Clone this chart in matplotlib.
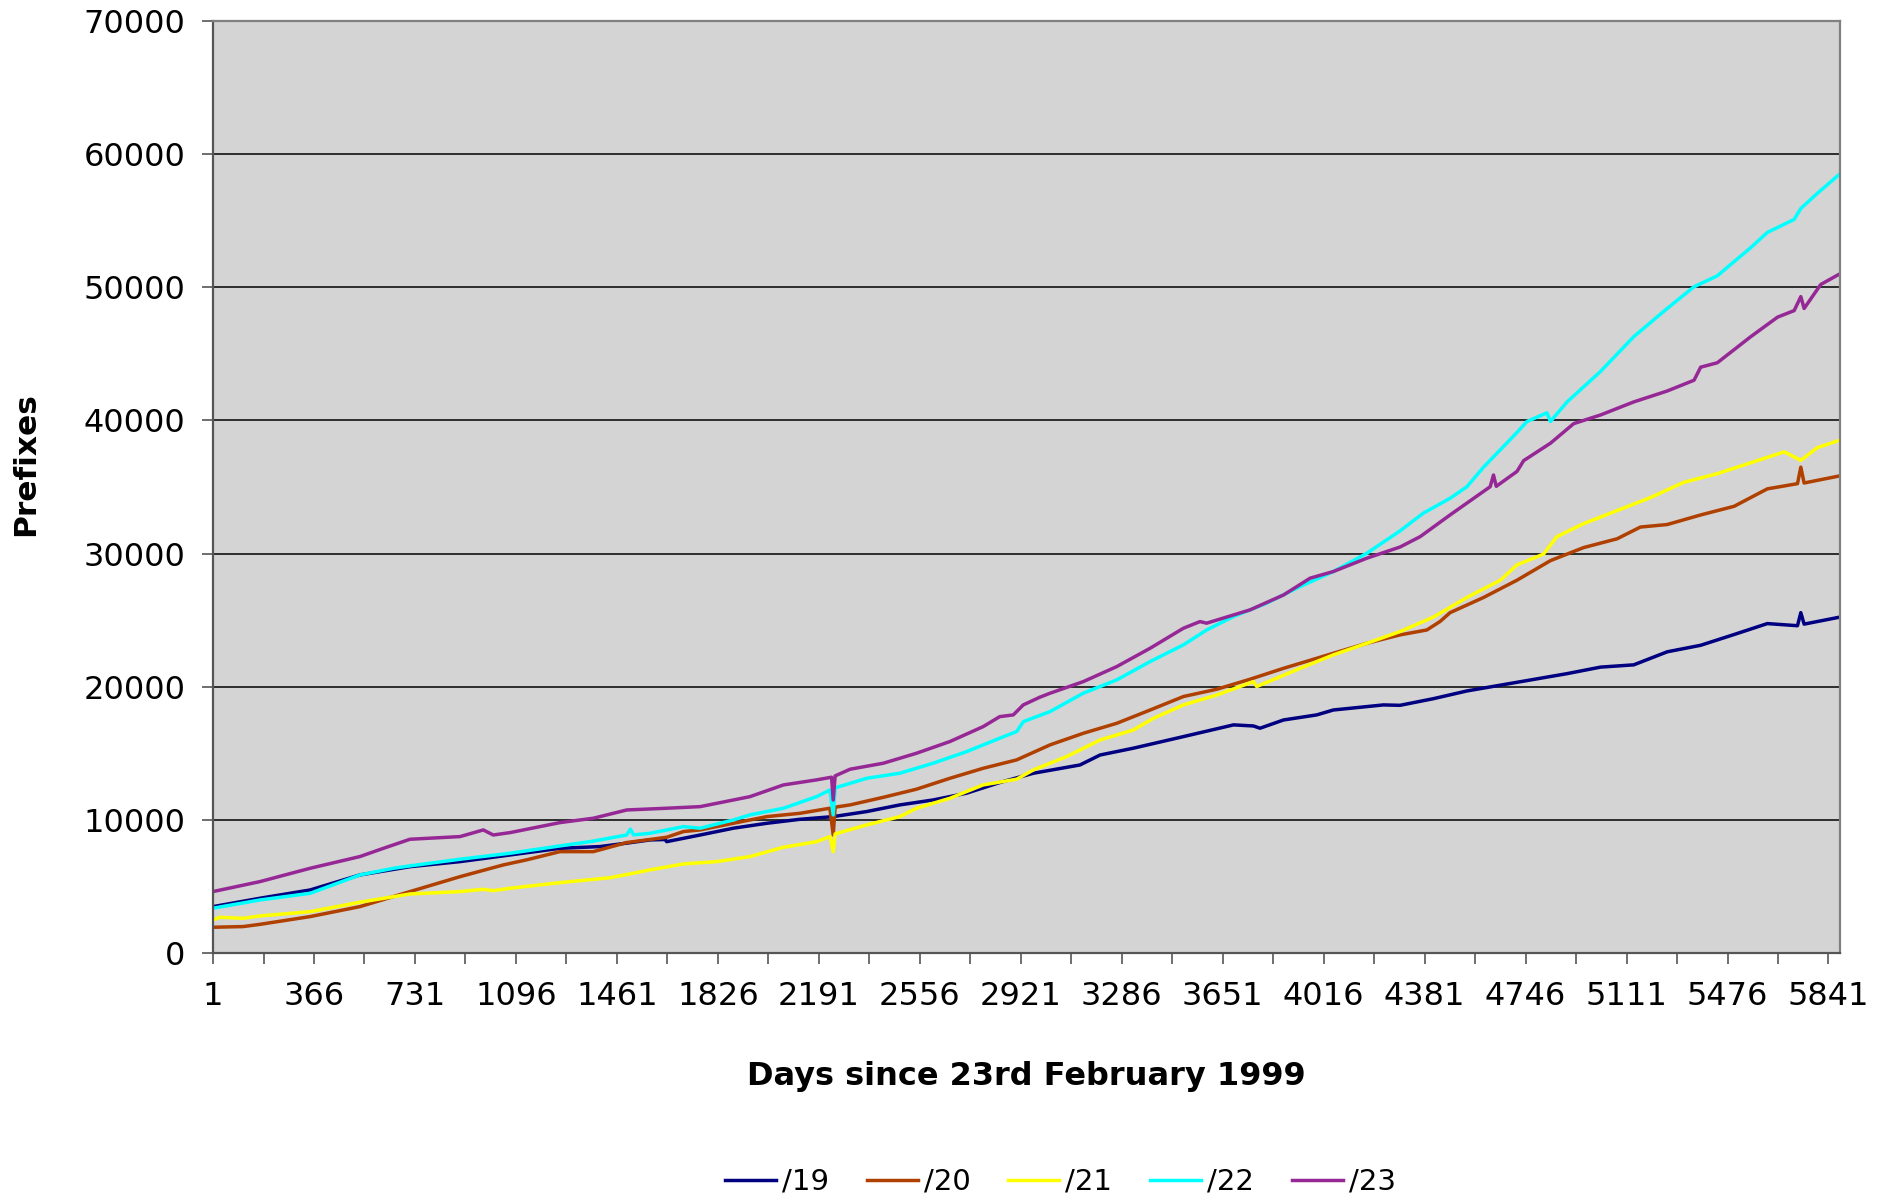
import matplotlib
matplotlib.use("Agg")
import matplotlib.pyplot as plt
from matplotlib.ticker import FixedLocator

# Data: days since 23 Feb 1999 -> number of prefixes
days_19 = [1, 171, 352, 532, 713, 894, 1075, 1256, 1400, 1497, 1581, 1635, 1641, 1762, 1882,
           2003, 2123, 2243, 2364, 2484, 2604, 2725, 2845, 2967, 3135, 3208, 3328, 3509, 3690,
           3762, 3786, 3871, 3991, 4051, 4232, 4292, 4413, 4534, 4715, 4896, 5017, 5137, 5258,
           5379, 5500, 5620, 5729, 5741, 5753, 5883]
vals_19 = [3480, 4110, 4730, 5860, 6480, 6860, 7360, 7860, 7990, 8250, 8490, 8520, 8360, 8860,
           9370, 9740, 10040, 10240, 10620, 11120, 11490, 12000, 12800, 13500, 14120, 14870,
           15380, 16250, 17130, 17050, 16880, 17500, 17880, 18250, 18630, 18600, 19100, 19680,
           20330, 20980, 21470, 21640, 22620, 23110, 23920, 24740, 24580, 25560, 24700, 25230]

days_20 = [1, 110, 171, 352, 532, 713, 894, 1050, 1134, 1255, 1376, 1496, 1641, 1702, 1762,
           1882, 2003, 2123, 2231, 2243, 2250, 2304, 2424, 2544, 2665, 2785, 2906, 3027, 3147,
           3268, 3389, 3509, 3630, 3750, 3871, 4051, 4172, 4292, 4389, 4437, 4473, 4594, 4715,
           4836, 4956, 5077, 5161, 5258, 5379, 5500, 5620, 5729, 5741, 5753, 5883]
vals_20 = [1930, 1980, 2150, 2730, 3480, 4610, 5730, 6610, 6990, 7610, 7610, 8290, 8690, 9120,
           9240, 9740, 10240, 10490, 10870, 8860, 10950, 11120, 11690, 12300, 13120, 13870,
           14500, 15630, 16500, 17250, 18250, 19260, 19810, 20560, 21380, 22510, 23260, 23890,
           24260, 24900, 25560, 26700, 28000, 29470, 30450, 31110, 31990, 32180, 32900, 33550,
           34860, 35250, 36490, 35300, 35840]

days_21 = [1, 26, 110, 171, 352, 532, 713, 894, 978, 1014, 1075, 1255, 1436, 1521, 1581, 1702,
           1822, 1942, 2063, 2183, 2231, 2243, 2250, 2364, 2484, 2544, 2665, 2785, 2906, 2967,
           3087, 3208, 3328, 3401, 3509, 3630, 3762, 3774, 3931, 4051, 4172, 4292, 4413, 4534,
           4655, 4715, 4811, 4859, 4956, 5077, 5198, 5318, 5439, 5560, 5681, 5741, 5801, 5883]
vals_21 = [2480, 2680, 2600, 2780, 3100, 3810, 4430, 4610, 4780, 4680, 4860, 5280, 5650, 5990,
           6240, 6690, 6860, 7240, 7940, 8360, 8740, 7610, 8940, 9620, 10240, 10870, 11620,
           12620, 13050, 13750, 14750, 16000, 16750, 17630, 18630, 19380, 20380, 20010, 21380,
           22390, 23260, 24140, 25230, 26700, 28000, 29150, 29960, 31270, 32250, 33230, 34210,
           35350, 36000, 36820, 37640, 37000, 37960, 38520]

days_22 = [1, 171, 352, 532, 653, 713, 894, 1075, 1255, 1376, 1496, 1510, 1521, 1581, 1702,
           1762, 1882, 1942, 2063, 2183, 2231, 2243, 2250, 2364, 2484, 2604, 2725, 2845, 2906,
           2931, 3027, 3147, 3268, 3389, 3509, 3593, 3690, 3810, 3931, 4051, 4172, 4292, 4376,
           4473, 4534, 4594, 4655, 4715, 4751, 4823, 4836, 4896, 5017, 5137, 5258, 5355, 5439,
           5560, 5620, 5717, 5741, 5801, 5883]
vals_22 = [3360, 3980, 4480, 5860, 6360, 6540, 7040, 7490, 8040, 8400, 8860, 9300, 8870, 8990,
           9490, 9370, 9990, 10370, 10870, 11740, 12240, 10370, 12400, 13120, 13500, 14250,
           15120, 16130, 16630, 17380, 18130, 19510, 20510, 21890, 23140, 24260, 25270, 26270,
           27520, 28650, 30020, 31700, 33030, 34150, 35020, 36490, 37800, 39100, 39920, 40570,
           39920, 41390, 43680, 46290, 48410, 50040, 50860, 52980, 54120, 55100, 55920, 57060,
           58530]

days_23 = [1, 171, 352, 532, 617, 713, 894, 978, 1014, 1075, 1255, 1376, 1497, 1641, 1762,
           1942, 2063, 2183, 2237, 2243, 2250, 2304, 2424, 2544, 2665, 2785, 2845, 2894, 2930,
           2990, 3027, 3147, 3268, 3389, 3509, 3569, 3593, 3750, 3871, 3967, 4051, 4172, 4292,
           4365, 4473, 4618, 4630, 4640, 4715, 4739, 4836, 4920, 5017, 5137, 5258, 5355, 5379,
           5439, 5560, 5657, 5717, 5741, 5753, 5813, 5883]
vals_23 = [4610, 5360, 6360, 7240, 7860, 8540, 8740, 9240, 8860, 9040, 9790, 10120, 10740,
           10870, 10990, 11740, 12620, 13000, 13200, 11490, 13300, 13800, 14250, 15000, 15880,
           17000, 17750, 17880, 18630, 19210, 19510, 20380, 21510, 22890, 24390, 24890, 24770,
           25770, 26890, 28150, 28650, 29650, 30490, 31270, 32900, 35020, 35900, 35050, 36170,
           36980, 38290, 39760, 40410, 41390, 42210, 43020, 44000, 44330, 46290, 47760, 48250,
           49300, 48410, 50210, 51020]

series = [
    ("/19", days_19, vals_19, "#000080"),
    ("/20", days_20, vals_20, "#B04000"),
    ("/21", days_21, vals_21, "#FFFF00"),
    ("/22", days_22, vals_22, "#00FFFF"),
    ("/23", days_23, vals_23, "#962896"),
]

label_days = [1 + 365 * k for k in range(17)]
minor_days = [183.5 + 365 * k for k in range(16)]

fig = plt.figure(figsize=(18.97, 12.02), dpi=100)
ax = fig.add_axes([0.1123, 0.2072, 0.8577, 0.7753])
ax.set_facecolor("#D4D4D4")

for name, d, v, c in series:
    ax.plot(d, v, color=c, lw=2.5, label=name)

ax.set_xlim(1, 5883)
ax.set_ylim(0, 70000)
ax.set_yticks(range(0, 70001, 10000))
ax.xaxis.set_major_locator(FixedLocator(label_days))
ax.xaxis.set_minor_locator(FixedLocator(minor_days))
ax.set_xticklabels([str(d) for d in label_days])

ax.grid(axis="y", color="black", lw=1.1)
ax.set_axisbelow(True)

for s in ax.spines.values():
    s.set_color("#808080")
    s.set_linewidth(1.6)
ax.spines["left"].set_color("#555555")
ax.spines["bottom"].set_color("#555555")

ax.tick_params(axis="both", which="both", direction="out", length=8, width=1.2,
               color="#555555", labelsize=23)
ax.tick_params(axis="y", pad=12)
ax.tick_params(axis="x", pad=12)

ax.set_xlabel("Days since 23rd February 1999", fontsize=23, fontweight="bold")
ax.xaxis.set_label_coords(0.5, -0.116)
ax.set_ylabel("Prefixes", fontsize=22.5, fontweight="bold")
ax.yaxis.set_label_coords(-0.1063, 0.5247)

fig.legend(loc="center", bbox_to_anchor=(0.559, 1 - 1182 / 1202), ncol=5, frameon=False,
           fontsize=21, handlelength=1.75, handletextpad=0.2, columnspacing=1.3)

fig.savefig("out.png", dpi=100)
